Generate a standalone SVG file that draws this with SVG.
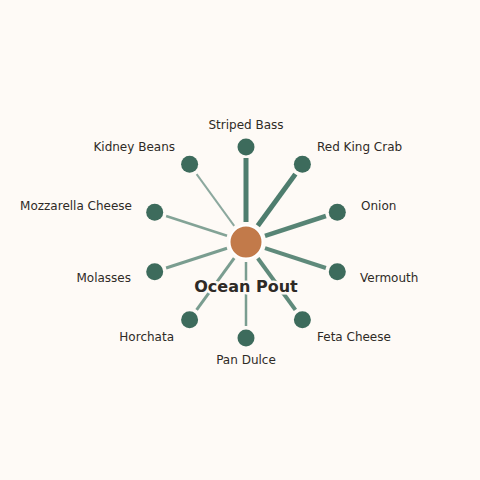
<svg xmlns="http://www.w3.org/2000/svg" width="480" height="480" viewBox="0 0 480 480">
<style>
.bg{fill:#FEFAF6}
.leaf{fill:#3D6B5C}
.hub{fill:#C27A4A;stroke:#FFFFFF;stroke-width:2}
.lbl{font-family:"DejaVu Sans",sans-serif;font-size:12px;fill:#2E2A26}
.title{font-family:"DejaVu Sans",sans-serif;font-size:16px;font-weight:bold;fill:#2E2A26;stroke:#FEFAF6;stroke-width:5;stroke-linejoin:round;paint-order:stroke}
.e{stroke:#4E7D6E;stroke-linecap:butt}
</style>
<rect class="bg" x="0" y="0" width="480" height="480"/>
<g id="connectors">
<line class="e" x1="246" y1="222" x2="246" y2="158" stroke-width="5"/>
<line class="e" x1="257.8" y1="225.8" x2="295.4" y2="174.1" stroke-width="5"/>
<line class="e" x1="265" y1="235.8" x2="325.9" y2="216" stroke-width="4.5" stroke-opacity="0.95"/>
<line class="e" x1="265" y1="248.2" x2="325.9" y2="268" stroke-width="4" stroke-opacity="0.9"/>
<line class="e" x1="257.8" y1="258.2" x2="295.4" y2="309.9" stroke-width="4" stroke-opacity="0.9"/>
<line class="e" x1="246" y1="262" x2="246" y2="326" stroke-width="2.5" stroke-opacity="0.75"/>
<line class="e" x1="234.2" y1="258.2" x2="196.6" y2="309.9" stroke-width="3" stroke-opacity="0.75"/>
<line class="e" x1="227" y1="248.2" x2="166.1" y2="268" stroke-width="3" stroke-opacity="0.75"/>
<line class="e" x1="227" y1="235.8" x2="166.1" y2="216" stroke-width="2.5" stroke-opacity="0.7"/>
<line class="e" x1="234.2" y1="225.8" x2="196.6" y2="174.1" stroke-width="2" stroke-opacity="0.65"/>
</g>
<g id="hub"><circle class="hub" cx="246" cy="242" r="16.5"/><text class="title" x="246" y="291.5" text-anchor="middle">Ocean Pout</text></g>
<g id="n-striped-bass"><circle class="leaf" cx="246" cy="147" r="8.5"/><text class="lbl" x="246" y="129" text-anchor="middle">Striped Bass</text></g>
<g id="n-red-king-crab"><circle class="leaf" cx="302.4" cy="164.3" r="8.5"/><text class="lbl" x="317" y="151">Red King Crab</text></g>
<g id="n-onion"><circle class="leaf" cx="337.3" cy="212.3" r="8.5"/><text class="lbl" x="361" y="210">Onion</text></g>
<g id="n-vermouth"><circle class="leaf" cx="337.3" cy="271.7" r="8.5"/><text class="lbl" x="360" y="282">Vermouth</text></g>
<g id="n-feta-cheese"><circle class="leaf" cx="302.4" cy="319.7" r="8.5"/><text class="lbl" x="317" y="341">Feta Cheese</text></g>
<g id="n-pan-dulce"><circle class="leaf" cx="246" cy="338" r="8.5"/><text class="lbl" x="246" y="364" text-anchor="middle">Pan Dulce</text></g>
<g id="n-horchata"><circle class="leaf" cx="189.6" cy="319.7" r="8.5"/><text class="lbl" x="174" y="341" text-anchor="end">Horchata</text></g>
<g id="n-molasses"><circle class="leaf" cx="154.7" cy="271.7" r="8.5"/><text class="lbl" x="131" y="282" text-anchor="end">Molasses</text></g>
<g id="n-mozzarella-cheese"><circle class="leaf" cx="154.7" cy="212.3" r="8.5"/><text class="lbl" x="132" y="210" text-anchor="end">Mozzarella Cheese</text></g>
<g id="n-kidney-beans"><circle class="leaf" cx="189.6" cy="164.3" r="8.5"/><text class="lbl" x="175" y="151" text-anchor="end">Kidney Beans</text></g>
</svg>
